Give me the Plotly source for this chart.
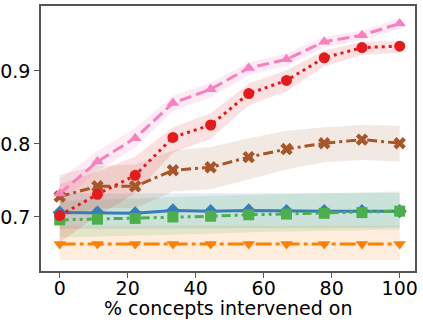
import plotly.graph_objects as go

# % concepts intervened on
pct = [0, 11.1, 22.2, 33.3, 44.4, 55.6, 66.7, 77.8, 88.9, 100]

blue = [0.706, 0.706, 0.705, 0.709, 0.708, 0.709, 0.708, 0.708, 0.708, 0.708]
blue_lo = [0.684, 0.684, 0.684, 0.685, 0.685, 0.685, 0.685, 0.685, 0.685, 0.686]
blue_hi = [0.732, 0.732, 0.732, 0.733, 0.733, 0.733, 0.733, 0.733, 0.733, 0.733]

green = [0.696, 0.697, 0.698, 0.700, 0.701, 0.703, 0.704, 0.705, 0.706, 0.708]
green_lo = [0.672, 0.673, 0.674, 0.676, 0.677, 0.679, 0.680, 0.681, 0.682, 0.683]
green_hi = [0.722, 0.724, 0.726, 0.728, 0.729, 0.730, 0.731, 0.733, 0.734, 0.735]

orange = [0.663, 0.663, 0.663, 0.663, 0.663, 0.663, 0.663, 0.663, 0.663, 0.663]
orange_lo = [0.641, 0.641, 0.641, 0.641, 0.641, 0.641, 0.641, 0.641, 0.641, 0.641]
orange_hi = [0.688, 0.688, 0.688, 0.688, 0.688, 0.688, 0.688, 0.688, 0.688, 0.688]

red = [0.702, 0.731, 0.757, 0.809, 0.826, 0.869, 0.887, 0.918, 0.932, 0.934]
red_lo = [0.665, 0.702, 0.732, 0.788, 0.807, 0.853, 0.872, 0.906, 0.922, 0.925]
red_hi = [0.745, 0.762, 0.783, 0.823, 0.842, 0.883, 0.901, 0.928, 0.940, 0.941]

pink = [0.732, 0.776, 0.808, 0.856, 0.875, 0.904, 0.916, 0.940, 0.949, 0.965]
pink_lo = [0.718, 0.763, 0.795, 0.845, 0.864, 0.894, 0.907, 0.932, 0.942, 0.958]
pink_hi = [0.752, 0.790, 0.822, 0.866, 0.884, 0.912, 0.924, 0.947, 0.955, 0.972]

brown = [0.728, 0.742, 0.742, 0.764, 0.768, 0.782, 0.793, 0.801, 0.806, 0.801]
brown_lo = [0.700, 0.712, 0.712, 0.735, 0.738, 0.752, 0.765, 0.775, 0.778, 0.776]
brown_hi = [0.758, 0.770, 0.772, 0.791, 0.796, 0.808, 0.818, 0.823, 0.826, 0.825]

series = [
    # (y, lo, hi, colour, band rgba, dash, marker)
    (orange, orange_lo, orange_hi, "#ff7f00", "rgba(255,127,0,0.13)", "16px,4px,4px,4px", "triangle-down"),
    (blue, blue_lo, blue_hi, "#377eb8", "rgba(55,126,184,0.15)", "solid", "diamond"),
    (green, green_lo, green_hi, "#4daf4a", "rgba(77,175,74,0.15)", "9px,4px,3px,4px,3px,4px", "square"),
    (brown, brown_lo, brown_hi, "#a65628", "rgba(166,86,40,0.13)", "10px,4px,3px,4px", "x"),
    (red, red_lo, red_hi, "#e41a1c", "rgba(228,26,28,0.13)", "3px,4px", "circle"),
    (pink, pink_lo, pink_hi, "#f781bf", "rgba(247,129,191,0.17)", "12px,5px", "triangle-up"),
]

fig = go.Figure()

# shaded bands first
for y, lo, hi, col, band, dash, sym in series:
    fig.add_trace(go.Scatter(x=pct, y=lo, mode="lines", line=dict(width=0), hoverinfo="skip", showlegend=False))
    fig.add_trace(go.Scatter(x=pct, y=hi, mode="lines", line=dict(width=0), fill="tonexty",
                             fillcolor=band, hoverinfo="skip", showlegend=False))

for y, lo, hi, col, band, dash, sym in series:
    fig.add_trace(go.Scatter(x=pct, y=y, mode="lines+markers",
                             line=dict(color=col, width=3, dash=dash),
                             marker=dict(symbol=sym, size=11, color=col),
                             showlegend=False))

fig.update_layout(
    width=423, height=322,
    margin=dict(l=41, r=8, t=6, b=51),
    plot_bgcolor="white", paper_bgcolor="white",
    font=dict(family="DejaVu Sans", size=19, color="black"),
)
# x label as annotation so it sits right under the tick labels
fig.add_annotation(text="% concepts intervened on", xref="paper", yref="paper",
                   x=0.5, y=-0.14, yanchor="middle", showarrow=False, font=dict(size=19))
fig.update_xaxes(range=[-5.5, 104.5], tickvals=[0, 20, 40, 60, 80, 100], automargin=False,
                 showgrid=False, zeroline=False, showline=True, linecolor="#555", linewidth=1.5,
                 mirror=True, ticks="outside", ticklen=5, tickcolor="#555", ticklabelstandoff=-6)
fig.update_yaxes(range=[0.626, 0.989], tickvals=[0.7, 0.8, 0.9], ticktext=["0.7", "0.8", "0.9"],
                 automargin=False,
                 showgrid=False, zeroline=False, showline=True, linecolor="#555", linewidth=1.5,
                 mirror=True, ticks="outside", ticklen=5, tickcolor="#555")

# drop the default body margin so the figure sits at the page corner
fig.write_html("out.html", config={"displayModeBar": False},
               post_script="document.body.style.margin='0';")
